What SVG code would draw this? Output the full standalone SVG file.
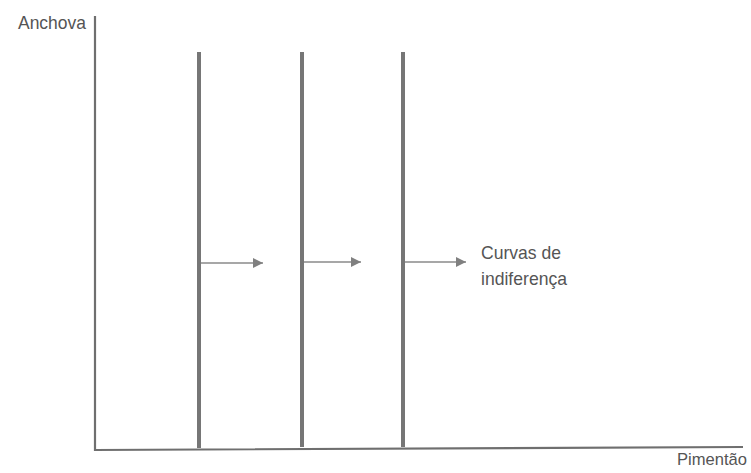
<svg xmlns="http://www.w3.org/2000/svg" width="751" height="473" viewBox="0 0 751 473">
<style>
.axis{fill:none;stroke:#6f6f6f;stroke-width:2.2}
.curve{stroke:#767676;stroke-width:4}
.arr{stroke:#8a8a8a;stroke-width:1.5}
.lbl{font-family:"Liberation Sans",Arial,sans-serif;font-size:19px;fill:#555}
.sm{font-size:17px}
</style>
<defs>
<marker id="ah" viewBox="0 0 10 10" refX="10" refY="5" markerWidth="15" markerHeight="10" markerUnits="userSpaceOnUse" orient="auto">
<path d="M0,0 L10,5 L0,10 z" fill="#808080"/>
</marker>
</defs>
<rect width="751" height="473" fill="#fff"/>
<g id="axes">
<polyline class="axis" points="95,16 95,450 743,447"/>
</g>
<g id="curve1"><line class="curve" x1="199" y1="52" x2="199" y2="448"/></g>
<g id="curve2"><line class="curve" x1="302" y1="52" x2="302" y2="447"/></g>
<g id="curve3"><line class="curve" x1="403" y1="52" x2="403" y2="447"/></g>
<g id="connectors">
<line class="arr" x1="201" y1="263" x2="263" y2="263" marker-end="url(#ah)"/>
<line class="arr" x1="304" y1="262" x2="361" y2="262" marker-end="url(#ah)"/>
<line class="arr" x1="405" y1="262" x2="466" y2="262" marker-end="url(#ah)"/>
</g>
<g id="labels">
<text class="lbl" x="18" y="29" textLength="68" lengthAdjust="spacingAndGlyphs">Anchova</text>
<text class="lbl sm" x="677" y="465" textLength="70" lengthAdjust="spacingAndGlyphs">Pimentão</text>
<text class="lbl" x="481" y="259" textLength="80" lengthAdjust="spacingAndGlyphs">Curvas de</text>
<text class="lbl" x="481" y="285" textLength="86" lengthAdjust="spacingAndGlyphs">indiferença</text>
</g>
</svg>
